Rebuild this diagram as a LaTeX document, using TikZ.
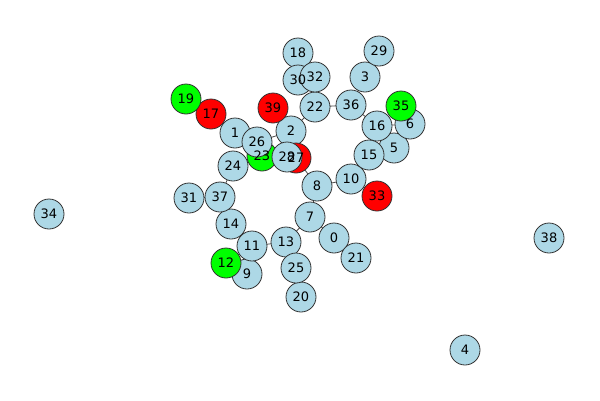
\documentclass[tikz,border=0pt]{standalone}
\usepackage{fontspec}
\setmainfont{DejaVu Sans}
\definecolor{lb}{RGB}{173,216,230}
\definecolor{gr}{RGB}{0,255,0}
\definecolor{rd}{RGB}{255,0,0}
\begin{document}
\begin{tikzpicture}[x=1pt,y=-1pt,
  vtx/.style={circle,draw=black!80,line width=0.8pt,minimum size=30pt,inner sep=0pt,fill=lb},
  gv/.style={vtx,fill=gr},
  rv/.style={vtx,fill=rd},
  lbl/.style={inner sep=0pt,font=\fontsize{13}{13}\selectfont},
  edge/.style={draw=black!70,line width=0.8pt}]
\useasboundingbox (0,0) rectangle (600,400);
\coordinate (p0) at (334,238);
\coordinate (p1) at (235,133);
\coordinate (p2) at (291,131);
\coordinate (p3) at (365,77);
\coordinate (p4) at (465,350);
\coordinate (p5) at (394,148);
\coordinate (p6) at (410,124);
\coordinate (p7) at (310,217);
\coordinate (p8) at (317,186);
\coordinate (p9) at (247,274);
\coordinate (p10) at (351,179);
\coordinate (p11) at (252,246);
\coordinate (p12) at (226,263);
\coordinate (p13) at (286,242);
\coordinate (p14) at (231,224);
\coordinate (p15) at (369,155);
\coordinate (p16) at (377,126);
\coordinate (p17) at (211,114);
\coordinate (p18) at (298,53);
\coordinate (p19) at (186,99);
\coordinate (p20) at (301,297);
\coordinate (p21) at (356,258);
\coordinate (p22) at (315,107);
\coordinate (p23) at (262,156);
\coordinate (p24) at (233,166);
\coordinate (p25) at (296,268);
\coordinate (p26) at (257,142);
\coordinate (p27) at (296,158);
\coordinate (p28) at (287,157);
\coordinate (p29) at (379,51);
\coordinate (p30) at (298,80);
\coordinate (p31) at (189,198);
\coordinate (p32) at (315,77);
\coordinate (p33) at (377,196);
\coordinate (p34) at (49,214);
\coordinate (p35) at (401,106);
\coordinate (p36) at (351,105);
\coordinate (p37) at (220,197);
\coordinate (p38) at (549,238);
\coordinate (p39) at (273,108);
\foreach \a/\b in {19/17,17/1,1/26,26/23,26/2,2/39,2/22,2/28,28/27,27/8,24/23,24/37,37/31,37/14,14/11,11/12,11/9,12/9,11/13,13/25,25/20,13/7,7/8,7/0,0/21,8/10,10/15,10/33,15/16,15/5,5/6,16/6,6/35,16/36,36/22,36/3,3/29,22/32,32/30,30/18}
  \draw[edge] (p\a) -- (p\b);
\foreach \i/\s in {0/vtx,1/vtx,2/vtx,3/vtx,4/vtx,5/vtx,6/vtx,7/vtx,8/vtx,9/vtx,10/vtx,11/vtx,12/gv,13/vtx,14/vtx,15/vtx,16/vtx,17/rv,18/vtx,19/gv,20/vtx,21/vtx,22/vtx,23/gv,24/vtx,25/vtx,26/vtx,27/rv,28/vtx,29/vtx,30/vtx,31/vtx,32/vtx,33/rv,34/vtx,35/gv,36/vtx,37/vtx,38/vtx,39/rv}
  \node[\s] (n\i) at (p\i) {};
\foreach \i in {0,...,39}
  \node[lbl] (l\i) at (n\i.center) {\i};
\end{tikzpicture}
\end{document}
